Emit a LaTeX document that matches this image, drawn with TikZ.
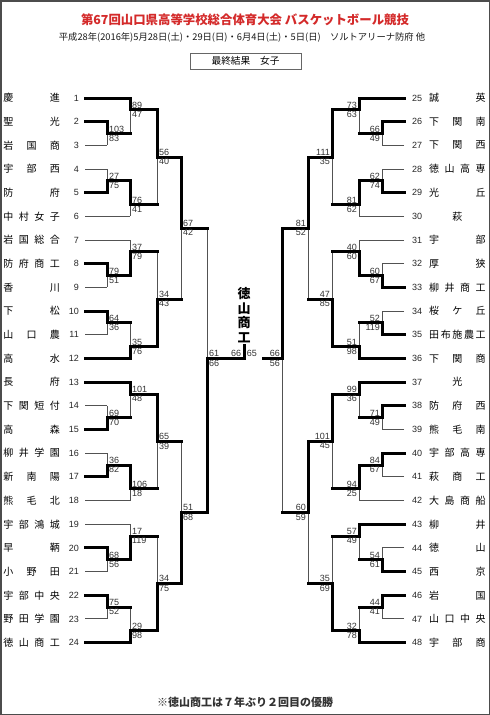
\documentclass[tikz,border=0pt]{standalone}
\usepackage{fontspec}
\setmainfont{Liberation Sans}
\newfontfamily\jp{Noto Sans CJK JP}
\definecolor{titlered}{HTML}{D42A2A}
\pgfdeclarelayer{bg}
\pgfdeclarelayer{paper}
\pgfsetlayers{paper,bg,main}
\newcommand\YY[1]{98+(#1-1)*23.68}
\newcount\scn
\tikzset{
 thinl/.style={draw=black!68, line width=1pt},
 thickl/.style={draw=black, line width=3pt, line cap=rect, line join=miter},
 score/.style={font=\fontsize{9}{9}\selectfont, text=black!80, inner sep=1.2pt},
 tname/.style={font=\jp\fontsize{10}{10}\selectfont, inner sep=0pt, text=black},
 tnum/.style={font=\fontsize{9}{9}\selectfont, inner sep=0pt, text=black!85},
}
% left match: x, ytop, ybot, yout, xnext, top score, bottom score, winner y
\newcommand\LM[8]{%
 \global\advance\scn by 1
 \begin{pgfonlayer}{bg}\draw[thinl] (#1,{\YY{#2}}) -- (#1,{\YY{#3}});\end{pgfonlayer}
 \draw[thickl] (#1,{\YY{#8}}) -- (#1,{\YY{#4}}) -- (#5,{\YY{#4}});
 \node[score,anchor=south west] (st\the\scn) at ({#1+0.7},{\YY{#4}}) {#6};
 \node[score,anchor=north west] (sb\the\scn) at ({#1+0.7},{\YY{#4}}) {#7};
}
\newcommand\RM[8]{%
 \global\advance\scn by 1
 \begin{pgfonlayer}{bg}\draw[thinl] (#1,{\YY{#2}}) -- (#1,{\YY{#3}});\end{pgfonlayer}
 \draw[thickl] (#1,{\YY{#8}}) -- (#1,{\YY{#4}}) -- (#5,{\YY{#4}});
 \node[score,anchor=south east] (st\the\scn) at ({#1-0.7},{\YY{#4}}) {#6};
 \node[score,anchor=north east] (sb\the\scn) at ({#1-0.7},{\YY{#4}}) {#7};
}
\newcommand\LT[4]{%
 \node[tname,anchor=west] (n#1) at (3.2,{\YY{#1}}) {\hbox to 56.5pt{#2}};
 \node[tnum,anchor=east] (k#1) at (79,{\YY{#1}}) {#1};
 \coordinate (e#1) at (#3,{\YY{#1}});
 \draw[#4] ([xshift=6pt]k#1.east) -- (e#1);
}
\newcommand\RT[4]{%
 \node[tnum,anchor=west] (k#1) at (412,{\YY{#1-24}}) {#1};
 \node[tname,anchor=west] (n#1) at (429,{\YY{#1-24}}) {\hbox to 56.5pt{#2}};
 \coordinate (e#1) at (#3,{\YY{#1-24}});
 \draw[#4] ([xshift=-8pt]k#1.west) -- (e#1);
}
\begin{document}
\begin{tikzpicture}[x=1pt,y=-1pt]
\useasboundingbox (0,0) rectangle (490,715);
\begin{pgfonlayer}{paper}
\fill[white] (0,0) rectangle (490,715);
\end{pgfonlayer}
\draw[draw=black!70, line width=1.5pt] (0.75,0.75) rectangle (489.25,714.25);

% header
\node[font=\jp\bfseries\fontsize{12.4}{14}\selectfont, text=titlered] (title) at (245,20) {第67回山口県高等学校総合体育大会 バスケットボール競技};
\node[font=\jp\fontsize{9.3}{11}\selectfont, text=black!90] (sub) at (242,37) {平成28年(2016年)5月28日(土)・29日(日)・6月4日(土)・5日(日)　ソルトアリーナ防府 他};
\node[draw=black!60, line width=0.8pt, minimum width=111pt, minimum height=16pt, inner sep=0pt, font=\jp\fontsize{9.7}{11}\selectfont] (box) at (245.5,61) {最終結果　女子};

% left teams
\LT{1}{慶\hfill 進}{130}{thickl}
\LT{2}{聖\hfill 光}{107}{thickl}
\LT{3}{岩\hfill 国\hfill 商}{107}{thinl}
\LT{4}{宇\hfill 部\hfill 西}{107}{thinl}
\LT{5}{防\hfill 府}{107}{thickl}
\LT{6}{中\hfill 村\hfill 女\hfill 子}{130}{thinl}
\LT{7}{岩\hfill 国\hfill 総\hfill 合}{130}{thinl}
\LT{8}{防\hfill 府\hfill 商\hfill 工}{107}{thickl}
\LT{9}{香\hfill 川}{107}{thinl}
\LT{10}{下\hfill 松}{107}{thickl}
\LT{11}{山\hfill 口\hfill 農}{107}{thinl}
\LT{12}{高\hfill 水}{130}{thickl}
\LT{13}{長\hfill 府}{130}{thickl}
\LT{14}{下\hfill 関\hfill 短\hfill 付}{107}{thinl}
\LT{15}{高\hfill 森}{107}{thickl}
\LT{16}{柳\hfill 井\hfill 学\hfill 園}{107}{thinl}
\LT{17}{新\hfill 南\hfill 陽}{107}{thickl}
\LT{18}{熊\hfill 毛\hfill 北}{130}{thinl}
\LT{19}{宇\hfill 部\hfill 鴻\hfill 城}{130}{thinl}
\LT{20}{早\hfill 鞆}{107}{thickl}
\LT{21}{小\hfill 野\hfill 田}{107}{thinl}
\LT{22}{宇\hfill 部\hfill 中\hfill 央}{107}{thickl}
\LT{23}{野\hfill 田\hfill 学\hfill 園}{107}{thinl}
\LT{24}{徳\hfill 山\hfill 商\hfill 工}{130}{thickl}

% right teams
\RT{25}{誠\hfill 英}{359}{thickl}
\RT{26}{下\hfill 関\hfill 南}{382}{thickl}
\RT{27}{下\hfill 関\hfill 西}{382}{thinl}
\RT{28}{徳\hfill 山\hfill 高\hfill 専}{382}{thinl}
\RT{29}{光\hfill 丘}{382}{thickl}
\RT{30}{\hfill 萩\hfill}{359}{thinl}
\RT{31}{宇\hfill 部}{359}{thinl}
\RT{32}{厚\hfill 狭}{382}{thinl}
\RT{33}{柳\hfill 井\hfill 商\hfill 工}{382}{thickl}
\RT{34}{桜\hfill ケ\hfill 丘}{382}{thinl}
\RT{35}{田\hfill 布\hfill 施\hfill 農\hfill 工}{382}{thickl}
\RT{36}{下\hfill 関\hfill 商}{359}{thickl}
\RT{37}{\hfill 光\hfill}{359}{thickl}
\RT{38}{防\hfill 府\hfill 西}{382}{thickl}
\RT{39}{熊\hfill 毛\hfill 南}{382}{thinl}
\RT{40}{宇\hfill 部\hfill 高\hfill 専}{382}{thickl}
\RT{41}{萩\hfill 商\hfill 工}{382}{thinl}
\RT{42}{大\hfill 島\hfill 商\hfill 船}{359}{thinl}
\RT{43}{柳\hfill 井}{359}{thickl}
\RT{44}{徳\hfill 山}{382}{thinl}
\RT{45}{西\hfill 京}{382}{thickl}
\RT{46}{岩\hfill 国}{382}{thickl}
\RT{47}{山\hfill 口\hfill 中\hfill 央}{382}{thinl}
\RT{48}{宇\hfill 部\hfill 商}{359}{thickl}

% left bracket
\LM{107}{2}{3}{2.5}{130}{103}{83}{2}
\LM{107}{4}{5}{4.5}{130}{27}{75}{5}
\LM{107}{8}{9}{8.5}{130}{79}{51}{8}
\LM{107}{10}{11}{10.5}{130}{64}{36}{10}
\LM{107}{14}{15}{14.5}{130}{69}{70}{15}
\LM{107}{16}{17}{16.5}{130}{36}{82}{17}
\LM{107}{20}{21}{20.5}{130}{68}{56}{20}
\LM{107}{22}{23}{22.5}{130}{75}{52}{22}
\LM{130}{1}{2.5}{1.5}{157}{89}{47}{1}
\LM{130}{4.5}{6}{5.5}{157}{76}{41}{4.5}
\LM{130}{7}{8.5}{7.5}{157}{37}{79}{8.5}
\LM{130}{10.5}{12}{11.5}{157}{35}{76}{12}
\LM{130}{13}{14.5}{13.5}{157}{101}{48}{13}
\LM{130}{16.5}{18}{17.5}{157}{106}{18}{16.5}
\LM{130}{19}{20.5}{19.5}{157}{17}{119}{20.5}
\LM{130}{22.5}{24}{23.5}{157}{29}{98}{24}
\LM{157}{1.5}{5.5}{3.5}{181}{56}{40}{1.5}
\LM{157}{7.5}{11.5}{9.5}{181}{34}{43}{11.5}
\LM{157}{13.5}{17.5}{15.5}{181}{65}{39}{13.5}
\LM{157}{19.5}{23.5}{21.5}{181}{34}{75}{23.5}
\LM{181}{3.5}{9.5}{6.5}{207}{67}{42}{3.5}
\LM{181}{15.5}{21.5}{18.5}{207}{51}{68}{21.5}
\LM{207}{6.5}{18.5}{12}{244}{61}{66}{18.5}

% right bracket
\RM{382}{2}{3}{2.5}{359}{66}{49}{2}
\RM{382}{4}{5}{4.5}{359}{62}{74}{5}
\RM{382}{8}{9}{8.5}{359}{60}{67}{9}
\RM{382}{10}{11}{10.5}{359}{52}{119}{11}
\RM{382}{14}{15}{14.5}{359}{71}{49}{14}
\RM{382}{16}{17}{16.5}{359}{84}{67}{16}
\RM{382}{20}{21}{20.5}{359}{54}{61}{21}
\RM{382}{22}{23}{22.5}{359}{44}{41}{22}
\RM{359}{1}{2.5}{1.5}{332}{73}{63}{1}
\RM{359}{4.5}{6}{5.5}{332}{81}{62}{4.5}
\RM{359}{7}{8.5}{7.5}{332}{40}{60}{8.5}
\RM{359}{10.5}{12}{11.5}{332}{51}{98}{12}
\RM{359}{13}{14.5}{13.5}{332}{99}{36}{13}
\RM{359}{16.5}{18}{17.5}{332}{94}{25}{16.5}
\RM{359}{19}{20.5}{19.5}{332}{57}{49}{19}
\RM{359}{22.5}{24}{23.5}{332}{32}{78}{24}
\RM{332}{1.5}{5.5}{3.5}{308}{111}{35}{1.5}
\RM{332}{7.5}{11.5}{9.5}{308}{47}{85}{11.5}
\RM{332}{13.5}{17.5}{15.5}{308}{101}{45}{13.5}
\RM{332}{19.5}{23.5}{21.5}{308}{35}{69}{23.5}
\RM{308}{3.5}{9.5}{6.5}{282}{81}{52}{3.5}
\RM{308}{15.5}{21.5}{18.5}{282}{60}{59}{15.5}
\RM{282}{6.5}{18.5}{12}{263}{66}{56}{6.5}

% final
\node[font=\jp\bfseries\fontsize{13}{14.5}\selectfont, align=center, inner sep=0pt] (champ) at (244,315) {徳\\山\\商\\工};
\coordinate (fin) at (244,{\YY{12}});
\draw[thickl] (fin) -- ([yshift=-3pt]champ.south);
\node[score,anchor=south east] (f1) at (242.5,{\YY{12}}) {66};
\node[score,anchor=south west] (f2) at (245.5,{\YY{12}}) {65};

% footer
\node[font=\jp\bfseries\fontsize{11}{13}\selectfont, text=black!80] (foot) at (245,702) {※徳山商工は７年ぶり２回目の優勝};
\end{tikzpicture}
\end{document}
